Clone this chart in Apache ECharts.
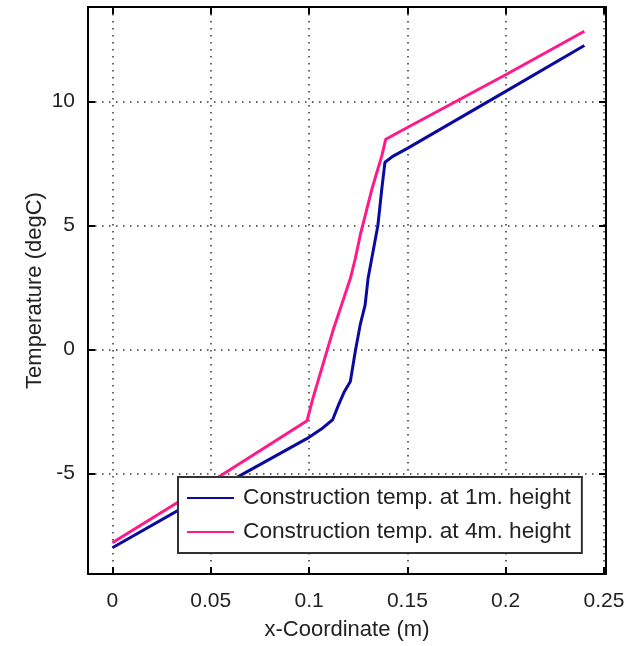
<!DOCTYPE html>
<html>
<head>
<meta charset="utf-8">
<script src="https://cdn.jsdelivr.net/npm/echarts@6/dist/echarts.min.js"></script>
<style>html,body{margin:0;padding:0;background:#fff}#c{width:636px;height:646px}</style>
</head>
<body>
<div id="c"></div>
<script>
var seriesNames = ['Construction temp. at 1m. height', 'Construction temp. at 4m. height'];
var x1m = [0, 0.05, 0.1, 0.107, 0.112, 0.115, 0.118, 0.121, 0.1235, 0.126, 0.1285, 0.130, 0.1325, 0.135, 0.137, 0.1386, 0.139, 0.143, 0.15, 0.2, 0.24];
var y1m = [-8.0, -5.75, -3.55, -3.17, -2.84, -2.24, -1.70, -1.30, -0.09, 0.98, 1.78, 2.85, 3.92, 4.99, 6.47, 7.54, 7.56, 7.8, 8.1, 10.4, 12.25];
var x4m = [0, 0.05, 0.099, 0.102, 0.107, 0.111, 0.1125, 0.1165, 0.121, 0.1235, 0.126, 0.129, 0.132, 0.135, 0.137, 0.139, 0.15, 0.2, 0.24];
var y4m = [-7.8, -5.35, -2.88, -1.97, -0.63, 0.44, 0.84, 1.78, 2.85, 3.65, 4.59, 5.53, 6.47, 7.27, 7.80, 8.47, 8.94, 11.07, 12.82];
var xTicks = [0, 0.05, 0.1, 0.15, 0.2, 0.25];
var yTicks = [-5, 0, 5, 10];

function pairs(xs, ys) { return xs.map(function (v, i) { return [v, ys[i]]; }); }

var txt = '#222';
var font = 'Liberation Sans, Arial, sans-serif';
var gridDots = { color: '#333', width: 1.5, type: [1.5, 5.5] };

function xAx(pos, show) {
  return {
    type: 'value', position: pos, min: -0.0124, max: 0.251,
    name: show ? 'x-Coordinate (m)' : '', nameLocation: 'middle', nameGap: 45, nameMoveOverlap: false,
    nameTextStyle: { color: txt, fontSize: 22, fontFamily: font },
    axisLine: { show: true, onZero: false, lineStyle: { color: '#000', width: 2 } },
    axisTick: { show: true, inside: true, length: 7, customValues: xTicks, lineStyle: { color: '#000', width: 2 } },
    axisLabel: { show: show, customValues: xTicks, margin: 17, color: txt, fontSize: 21, fontFamily: font },
    splitLine: { show: show, lineStyle: gridDots }
  };
}
function yAx(pos, show) {
  return {
    type: 'value', position: pos, min: -9.06, max: 13.8,
    name: show ? 'Temperature (degC)' : '', nameLocation: 'middle', nameGap: 42, nameMoveOverlap: false,
    nameTextStyle: { color: txt, fontSize: 22, fontFamily: font },
    axisLine: { show: true, onZero: false, lineStyle: { color: '#000', width: 2 } },
    axisTick: { show: true, inside: true, length: 7, customValues: yTicks, lineStyle: { color: '#000', width: 2 } },
    axisLabel: { show: show, customValues: yTicks, margin: 13, color: txt, fontSize: 21, fontFamily: font },
    splitLine: { show: show, lineStyle: gridDots }
  };
}

var chart = echarts.init(document.getElementById('c'), null, { renderer: 'canvas' });
chart.setOption({
  backgroundColor: '#fff',
  animation: false,
  grid: { left: 88, right: 30, top: 7, bottom: 70, containLabel: false },
  xAxis: [xAx('bottom', true), xAx('top', false)],
  yAxis: [yAx('left', true), yAx('right', false)],
  legend: {
    left: 178, top: 477, orient: 'vertical',
    data: seriesNames,
    icon: 'rect',
    backgroundColor: '#fff', borderColor: '#333', borderWidth: 2,
    padding: [9, 11, 9, 9], itemGap: 10,
    itemWidth: 47, itemHeight: 2,
    textStyle: { color: txt, fontSize: 22.7, fontFamily: font, lineHeight: 24, padding: [0, 0, 0, 4] }
  },
  series: [
    { name: seriesNames[0], type: 'line', data: pairs(x1m, y1m), symbol: 'none', showSymbol: false,
      lineStyle: { color: '#0a0aa0', width: 3 }, itemStyle: { color: '#0a0aa0' }, z: 3 },
    { name: seriesNames[1], type: 'line', data: pairs(x4m, y4m), symbol: 'none', showSymbol: false,
      lineStyle: { color: '#ff1a8c', width: 3 }, itemStyle: { color: '#ff1a8c' }, z: 2 }
  ]
});
</script>
</body>
</html>
